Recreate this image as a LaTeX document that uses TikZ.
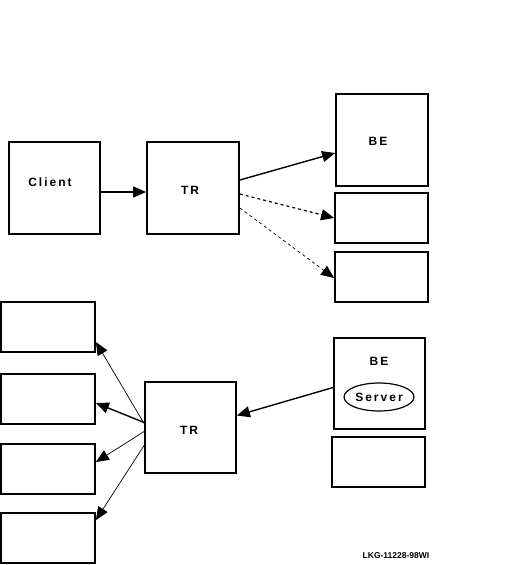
\documentclass[tikz,border=0pt]{standalone}
\usepackage{fontspec}
\setmainfont{Liberation Sans}
\usetikzlibrary{arrows.meta,shapes.geometric}
\begin{document}
\begin{tikzpicture}[x=1pt,y=-1pt,
  box/.style={draw,line width=1.8pt,minimum width=#1,inner sep=0pt},
  box/.default=92pt,
  lbl/.style={font=\fontsize{12}{14}\selectfont\bfseries},
  thk/.style={line width=1.4pt,-{Triangle[length=13pt,width=11pt]}},
  thn/.style={line width=0.7pt,-{Triangle[length=13pt,width=11pt]}}]
\useasboundingbox (0,0) rectangle (515,565);
% top group
\node[box=91pt,minimum height=92pt] (client) at (54.5,188) {};
\node[box=92pt,minimum height=92pt] (tr1) at (193,188) {};
\node[box=92pt,minimum height=92pt] (be1) at (382,140) {};
\node[box=93pt,minimum height=50pt] (b2) at (381.5,218) {};
\node[box=93pt,minimum height=50pt] (b3) at (381.5,277) {};
\node[lbl] (clientt) at (50,182) {C\,l\,i\,e\,n\,t};
\node[lbl] (tr1t) at (190,190) {T\,R};
\node[lbl] (be1t) at (378,141) {B\,E};
\draw[thk] (client.east |- 0,192) -- (tr1.west |- 0,192);
\draw[thk] ([yshift=8pt]tr1.east) -- ([yshift=-13pt]be1.west);
\draw[thk,dashed,line width=1.2pt] ([yshift=-6pt]tr1.east) -- (b2.west);
\draw[thn,dashed] ([yshift=-20pt]tr1.east) -- ([yshift=-1pt]b3.west);
% bottom group
\node[box=94pt,minimum height=50pt] (l1) at (48,327) {};
\node[box=94pt,minimum height=50pt] (l2) at (48,399) {};
\node[box=94pt,minimum height=50pt] (l3) at (48,469) {};
\node[box=94pt,minimum height=50pt] (l4) at (48,538) {};
\node[box=91pt,minimum height=91pt] (tr2) at (190.5,427.5) {};
\node[box=91pt,minimum height=91pt] (be2) at (379.5,383.5) {};
\node[box=93pt,minimum height=50pt] (b5) at (378.5,462) {};
\node[lbl] (tr2t) at (189,430) {T\,R};
\node[lbl] (be2t) at (379,361) {B\,E};
\node[draw,ellipse,line width=1.2pt,minimum width=70pt,minimum height=28pt,inner sep=0pt,lbl] (srv) at (379,397) {S\,e\,r\,v\,e\,r};
\node[font=\fontsize{8.5}{10}\selectfont\bfseries] (tag) at (396,556) {LKG-11228-98WI};
\draw[thk] ([yshift=-4pt]be2.west) -- ([yshift=12pt]tr2.east);
\draw[thn] ([yshift=4pt]tr2.west) -- ([yshift=-15pt]l1.east);
\draw[thk] ([yshift=5pt]tr2.west) -- ([yshift=-4pt]l2.east);
\draw[thn] ([yshift=-4pt]tr2.west) -- ([yshift=7pt]l3.east);
\draw[thn] ([yshift=-18pt]tr2.west) -- ([yshift=18pt]l4.east);
\end{tikzpicture}
\end{document}
